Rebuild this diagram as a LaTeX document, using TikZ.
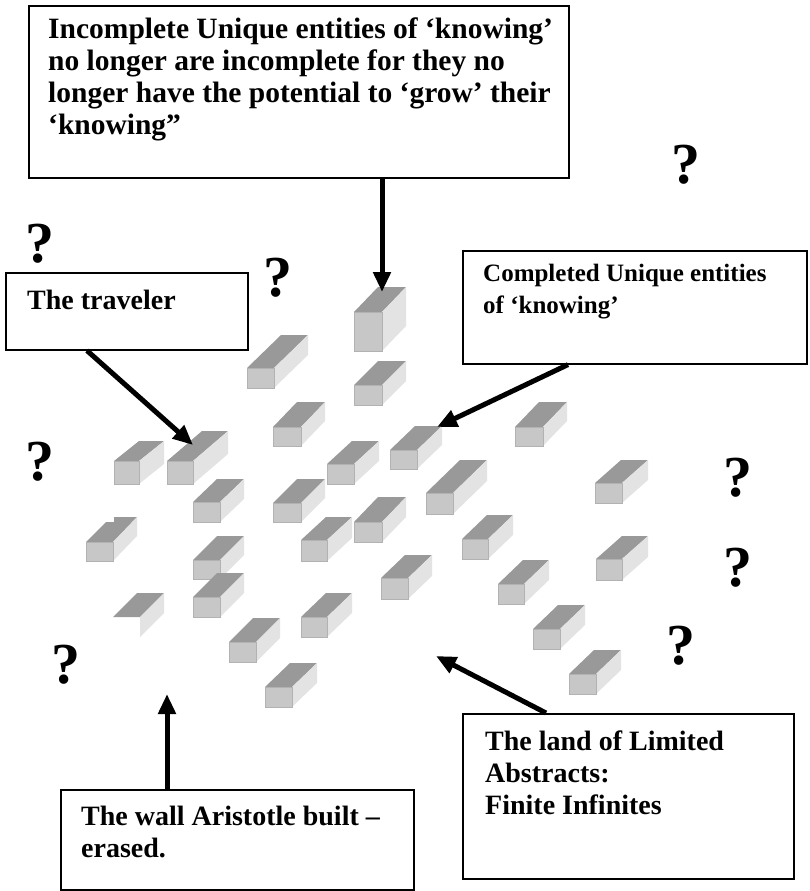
\documentclass[tikz,border=0pt]{standalone}
\usepackage{fontspec}
\setmainfont{Liberation Serif}
\usetikzlibrary{arrows.meta}

\begin{document}
\begin{tikzpicture}[x=1pt, y=-1pt,
    every node/.append style={font=\bfseries},
    note/.style={draw, line width=1.6pt, anchor=north west, inner sep=0pt},
    notetext/.style={anchor=north west, inner sep=0pt, align=left,
      font=\fontsize{28}{32}\selectfont\bfseries},
    pointer/.style={line width=5pt, -{Triangle[length=20pt, width=17pt]}},
    query/.style={font=\fontsize{58}{58}\selectfont\bfseries},
    topface/.style={fill=black!40},
    sideface/.style={fill=black!11},
    frontface/.style={fill=black!22, draw=black!30, line width=0.8pt}]
  \useasboundingbox (0,0) rectangle (810,891);

  % the blocks: front corner x/y, width, height, depth dx/dy
  \foreach \x/\y/\w/\h/\dx/\dy in {
      247/368/27/20/34/-33, 354/312/28/39/24/-25, 354/385/28/20/24/-24,
      273/427/28/19/24/-25, 515/427/28/19/24/-25, 390/450/27/19/25/-24,
      114/461/25/23/25/-20, 167/461/26/23/35/-30, 327/464/27/20/25/-23,
      595/483/27/20/26/-23, 426/493/27/21/34/-33, 193/502/27/20/24/-23,
      273/503/28/19/24/-24, 354/522/28/20/24/-25, 301/540/26/21/25/-23,
      462/539/26/20/25/-24, 193/560/27/19/24/-24, 596/559/26/21/26/-23,
      381/578/27/21/24/-23, 498/584/26/20/25/-24, 193/597/27/20/24/-24,
      301/617/26/20/25/-24, 533/629/27/20/25/-24, 229/642/27/20/24/-24,
      569/674/27/20/25/-24, 265/687/27/20/25/-24} {
    \fill[topface] (\x,\y) -- ({\x+\w},\y) -- ({\x+\w+\dx},{\y+\dy}) -- ({\x+\dx},{\y+\dy}) -- cycle;
    \fill[sideface] ({\x+\w},\y) -- ({\x+\w+\dx},{\y+\dy}) -- ({\x+\w+\dx},{\y+\dy+\h}) -- ({\x+\w},{\y+\h}) -- cycle;
    \filldraw[frontface] (\x,\y) rectangle ({\x+\w},{\y+\h});
  }
  % block with a notched top
  \fill[topface] (86,542) -- (106,522) -- (114,522) -- (114,517) -- (137,517) -- (113,542) -- cycle;
  \fill[sideface] (113,542) -- (137,517) -- (137,536) -- (113,561) -- cycle;
  \filldraw[frontface] (86,542) rectangle (113,561);
  % block without a front
  \fill[topface] (113,617) -- (137,593) -- (164,593) -- (140,617) -- cycle;
  \fill[sideface] (140,617) -- (164,593) -- (164,613) -- (140,637) -- cycle;

  % question marks
  \node[query] (q1) at (686,165) {?};
  \node[query] (q2) at (40,244) {?};
  \node[query] (q3) at (278,278) {?};
  \node[query] (q4) at (40,462) {?};
  \node[query] (q5) at (738,478) {?};
  \node[query] (q6) at (738,568) {?};
  \node[query] (q7) at (681,646) {?};
  \node[query] (q8) at (66,665) {?};

  % text boxes
  \node[note, minimum width=540pt, minimum height=172pt] (incomplete) at (28,5) {};
  \node[notetext, font=\fontsize{29.5}{32}\selectfont\bfseries] (incompletetext)
    at ([shift={(20,13)}]incomplete.north west)
    {Incomplete Unique entities of `knowing'\\
     no longer are incomplete for they no\\
     longer have the potential to `grow' their\\
     `knowing''};
  \node[note, minimum width=242pt, minimum height=77pt] (traveler) at (5,272) {};
  \node[notetext] (travelertext) at ([shift={(22,18)}]traveler.north west) {The traveler};
  \node[note, minimum width=344pt, minimum height=113pt] (completed) at (462,250) {};
  \node[notetext, font=\fontsize{25}{32}\selectfont\bfseries] (completedtext)
    at ([shift={(21,14)}]completed.north west) {Completed Unique entities\\ of `knowing'};
  \node[note, minimum width=331pt, minimum height=165pt] (land) at (462,713) {};
  \node[notetext] (landtext) at ([shift={(23,18)}]land.north west)
    {The land of Limited\\ Abstracts:\\ Finite Infinites};
  \node[note, minimum width=353pt, minimum height=100pt] (wall) at (60,789) {};
  \node[notetext] (walltext) at ([shift={(21,17)}]wall.north west)
    {The wall Aristotle built --\\ erased.};

  % pointers
  \coordinate (tallblock) at (382,292);
  \coordinate (travblock) at (193,445);
  \coordinate (doneblock) at (437,427);
  \coordinate (landspot) at (436,656);
  \coordinate (wallspot) at (167,694);
  \draw[pointer] (incomplete.south -| tallblock) -- (tallblock);
  \draw[pointer] ([xshift=82pt]traveler.south west) -- (travblock);
  \draw[pointer] ([xshift=106pt]completed.south west) -- (doneblock);
  \draw[pointer] ([xshift=84pt]land.north west) -- (landspot);
  \draw[pointer] (wall.north -| wallspot) -- (wallspot);
\end{tikzpicture}
\end{document}
